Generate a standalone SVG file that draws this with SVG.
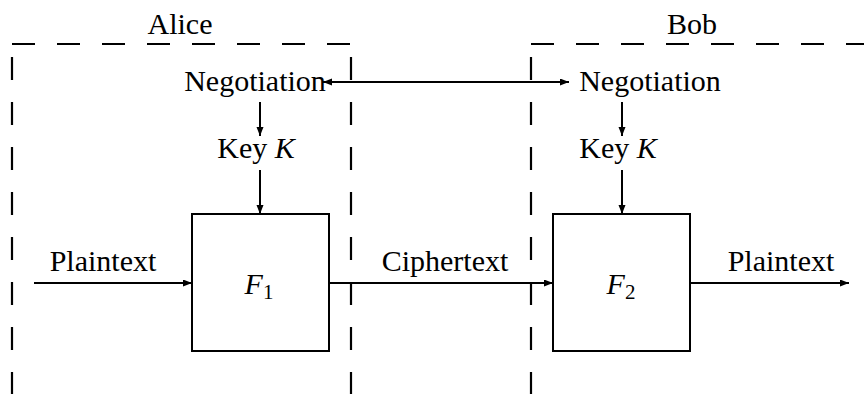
<svg xmlns="http://www.w3.org/2000/svg" width="864" height="394" viewBox="0 0 864 394">
  <style>
    text { font-family: 'Liberation Serif', 'Times New Roman', 'DejaVu Serif', serif; font-size: 30px; fill: #000; text-anchor: middle; }
    .it { font-style: italic; }
    .sub { font-size: 21px; }
    .dash { stroke: #000; stroke-width: 2.2; stroke-dasharray: 23 22; fill: none; }
    .conn { stroke: #000; stroke-width: 2; fill: none; }
    .box { stroke: #000; stroke-width: 2; fill: #fff; }
  </style>
  <defs>
    <marker id="arr" markerUnits="userSpaceOnUse" markerWidth="10" markerHeight="8" refX="9" refY="3.5" orient="auto-start-reverse">
      <path d="M0,0 L9,3.5 L0,7 z" fill="#000"/>
    </marker>
  </defs>

  <g id="alice-region">
    <line class="dash" x1="12" y1="44" x2="352" y2="44"/>
    <line class="dash" x1="12" y1="57" x2="12" y2="400"/>
    <line class="dash" x1="351" y1="57" x2="351" y2="400"/>
    <text x="180" y="34">Alice</text>
  </g>
  <g id="bob-region">
    <line class="dash" x1="531" y1="44" x2="870" y2="44"/>
    <line class="dash" x1="531" y1="57" x2="531" y2="400"/>
    <text x="692" y="34">Bob</text>
  </g>

  <g id="connectors">
    <line class="conn" x1="323" y1="82" x2="569" y2="82" marker-start="url(#arr)" marker-end="url(#arr)"/>
    <line class="conn" x1="260" y1="102" x2="260" y2="136" marker-end="url(#arr)"/>
    <line class="conn" x1="260" y1="170" x2="260" y2="214" marker-end="url(#arr)"/>
    <line class="conn" x1="622" y1="102" x2="622" y2="136" marker-end="url(#arr)"/>
    <line class="conn" x1="622" y1="170" x2="622" y2="214" marker-end="url(#arr)"/>
    <line class="conn" x1="34" y1="283" x2="192" y2="283" marker-end="url(#arr)"/>
    <line class="conn" x1="329" y1="283" x2="553" y2="283" marker-end="url(#arr)"/>
    <line class="conn" x1="690" y1="283" x2="849" y2="283" marker-end="url(#arr)"/>
  </g>

  <g id="alice-negotiation"><text x="255" y="91">Negotiation</text></g>
  <g id="alice-key"><text x="256" y="158">Key <tspan class="it">K</tspan></text></g>
  <g id="f1">
    <rect class="box" x="192" y="214" width="137" height="137"/>
    <text x="259" y="294"><tspan class="it">F</tspan><tspan class="sub" dy="5">1</tspan></text>
  </g>

  <g id="bob-negotiation"><text x="650" y="91">Negotiation</text></g>
  <g id="bob-key"><text x="618" y="158">Key <tspan class="it">K</tspan></text></g>
  <g id="f2">
    <rect class="box" x="553" y="214" width="137" height="137"/>
    <text x="621" y="294"><tspan class="it">F</tspan><tspan class="sub" dy="5">2</tspan></text>
  </g>

  <g id="labels">
    <text x="103" y="271">Plaintext</text>
    <text x="445" y="271">Ciphertext</text>
    <text x="781" y="271">Plaintext</text>
  </g>
</svg>
